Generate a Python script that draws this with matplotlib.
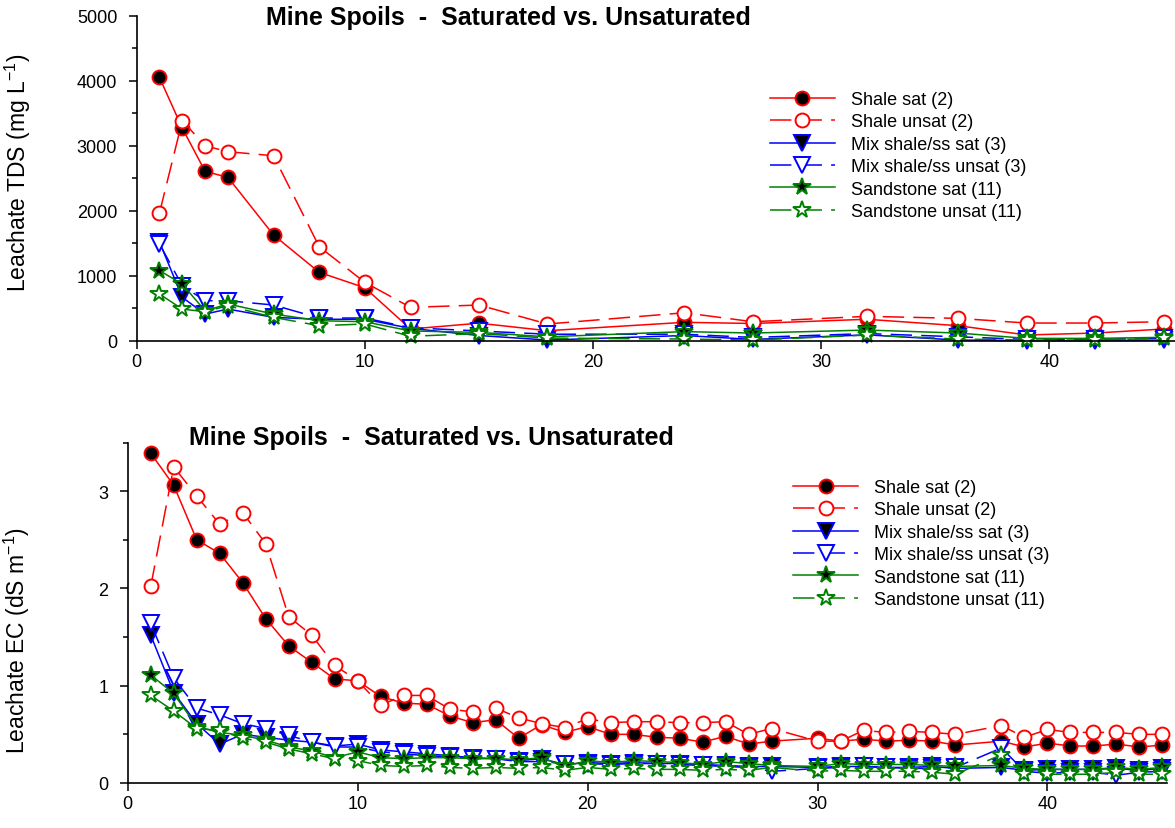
import matplotlib
matplotlib.use('Agg')
import matplotlib.pyplot as plt

plt.rcParams['font.family'] = ['Liberation Sans', 'DejaVu Sans']
plt.rcParams['mathtext.default'] = 'regular'

#TDS data (top panel):
tds_x = [1, 2, 3, 4, 6, 8, 10, 12, 15, 18, 24, 27, 32, 36, 39, 42, 45]
tds_shale_sat = [4050, 3270, 2606, 2513, 1626, 1052, 815, 180, 270, 154, 283, 265, 330, 231, 88, 118, 180]
tds_shale_unsat = [1965, 3385, 3000, 2908, 2846, 1446, 898, 513, 549, 257, 430, 292, 375, 344, 272, 272, 292]
tds_mix_sat = [1520, 667, 410, 487, 359, 330, 330, 190, 80, 10, 80, 20, 90, 10, 0, 0, 10]
tds_mix_unsat = [1490, 846, 615, 615, 549, 349, 349, 200, 150, 100, 100, 50, 110, 60, 20, 20, 40]
tds_sand_sat = [1080, 870, 460, 565, 410, 308, 292, 150, 128, 60, 140, 118, 164, 118, 36, 36, 52]
tds_sand_unsat = [718, 487, 446, 539, 359, 231, 257, 68, 110, 40, 26, 10, 87, 26, 10, 10, 36]

#EC data (bottom panel), no samples at 29 and 37:
ec_x = [1, 2, 3, 4, 5, 6, 7, 8, 9, 10, 11, 12, 13, 14, 15, 16, 17, 18, 19, 20, 21, 22,
        23, 24, 25, 26, 27, 28, 30, 31, 32, 33, 34, 35, 36, 38, 39, 40, 41, 42, 43, 44, 45]
ec_shale_sat = [3.39, 3.06, 2.50, 2.36, 2.06, 1.69, 1.41, 1.24, 1.07, 1.05, 0.89, 0.82, 0.81, 0.69, 0.62,
                0.65, 0.46, 0.60, 0.52, 0.58, 0.50, 0.50, 0.47, 0.46, 0.42, 0.48, 0.40, 0.43, 0.46, 0.43,
                0.45, 0.43, 0.44, 0.43, 0.39, 0.43, 0.37, 0.41, 0.38, 0.38, 0.40, 0.37, 0.39]
ec_shale_unsat = [2.02, 3.25, 2.95, 2.66, 2.78, 2.46, 1.71, 1.52, 1.21, 1.05, 0.80, 0.90, 0.90, 0.76, 0.73,
                  0.77, 0.67, 0.61, 0.57, 0.66, 0.62, 0.63, 0.63, 0.62, 0.62, 0.63, 0.50, 0.56, 0.43, 0.43,
                  0.54, 0.52, 0.53, 0.52, 0.50, 0.59, 0.47, 0.55, 0.52, 0.52, 0.52, 0.50, 0.50]
ec_mix_sat = [1.52, 0.93, 0.61, 0.40, 0.50, 0.47, 0.44, 0.42, 0.38, 0.40, 0.34, 0.32, 0.30, 0.28, 0.26,
              0.25, 0.23, 0.25, 0.19, 0.21, 0.20, 0.21, 0.20, 0.20, 0.19, 0.18, 0.17, 0.17, 0.16, 0.17,
              0.17, 0.16, 0.16, 0.17, 0.15, 0.16, 0.13, 0.14, 0.14, 0.14, 0.15, 0.13, 0.15]
ec_mix_unsat = [1.64, 1.08, 0.77, 0.70, 0.61, 0.56, 0.49, 0.42, 0.37, 0.37, 0.32, 0.30, 0.28, 0.27, 0.25,
                0.25, 0.22, 0.22, 0.20, 0.20, 0.19, 0.20, 0.20, 0.19, 0.18, 0.17, 0.16, 0.12, 0.15, 0.16,
                0.17, 0.16, 0.15, 0.15, 0.16, 0.36, 0.12, 0.10, 0.11, 0.11, 0.08, 0.11, 0.12]
ec_sand_sat = [1.11, 0.92, 0.58, 0.52, 0.49, 0.44, 0.37, 0.33, 0.26, 0.32, 0.26, 0.25, 0.26, 0.26, 0.25,
               0.25, 0.24, 0.26, 0.17, 0.23, 0.21, 0.23, 0.22, 0.21, 0.19, 0.22, 0.20, 0.18, 0.17, 0.20,
               0.19, 0.19, 0.19, 0.18, 0.17, 0.18, 0.15, 0.14, 0.14, 0.14, 0.16, 0.14, 0.16]
ec_sand_unsat = [0.90, 0.74, 0.56, 0.54, 0.46, 0.42, 0.35, 0.30, 0.25, 0.23, 0.18, 0.17, 0.18, 0.16, 0.15,
                 0.16, 0.15, 0.16, 0.13, 0.16, 0.14, 0.15, 0.14, 0.14, 0.13, 0.14, 0.13, 0.16, 0.12, 0.13,
                 0.12, 0.12, 0.12, 0.11, 0.09, 0.29, 0.09, 0.09, 0.09, 0.09, 0.11, 0.09, 0.09]

labels = ["Shale sat (2)", "Shale unsat (2)", "Mix shale/ss sat (3)", "Mix shale/ss unsat (3)",
          "Sandstone sat (11)", "Sandstone unsat (11)"]

#style per series: (color, marker, size, face, dashed)
styles = [('red', 'o', 10, 'black', False),
          ('red', 'o', 10, 'white', True),
          ('blue', 'v', 11, 'black', False),
          ('blue', 'v', 11, 'white', True),
          ('green', '*', 13, 'black', False),
          ('green', '*', 13, 'white', True)]

title = "Mine Spoils  -  Saturated vs. Unsaturated"


def draw_panel(ax, x, series, ylim, ymajor, yminor, ylabel, xmax):
    for y, lab, st in zip(series, labels, styles):
        color, mk, ms, face, dashed = st
        line, = ax.plot(x, y, color=color, linewidth=1.1, marker=mk, markersize=ms,
                        markerfacecolor=face, markeredgecolor=color, markeredgewidth=1.4,
                        label=lab, clip_on=False)
        if dashed:
            line.set_dashes((14, 6))
    ax.set_xlim(0, xmax)
    ax.set_xticks([0, 10, 20, 30, 40])
    ax.set_yticks(ymajor)
    ax.set_yticks(yminor, minor=True)
    ax.set_ylim(*ylim)
    for s in ['top', 'right']:
        ax.spines[s].set_visible(False)
    for s in ['left', 'bottom']:
        ax.spines[s].set_linewidth(1.2)
    ax.tick_params(which='major', direction='out', length=6, width=1.1, labelsize=13, pad=8)
    ax.tick_params(axis='x', which='major', pad=3)
    ax.tick_params(which='minor', direction='out', length=3.5, width=1.1)
    ax.set_ylabel(ylabel, fontsize=16.5)


fig = plt.figure(figsize=(11.75, 8.29), dpi=100)

#top: TDS
ax1 = fig.add_axes([0.1163, 0.5878, 0.8837, 0.392])
draw_panel(ax1, tds_x, [tds_shale_sat, tds_shale_unsat, tds_mix_sat, tds_mix_unsat, tds_sand_sat, tds_sand_unsat],
           (0, 5000), [0, 1000, 2000, 3000, 4000, 5000], [500, 1500, 2500, 3500, 4500],
           r'Leachate TDS (mg L$^{-1}$)', 45.5)
ax1.yaxis.set_label_coords(-0.1, 0.52)
ax1.legend(loc='upper left', bbox_to_anchor=(0.6553, 0.8890), bbox_transform=fig.transFigure,
           frameon=False, fontsize=13, handlelength=3.6, handletextpad=0.9, labelspacing=0.3,
           borderpad=0, borderaxespad=0)
fig.text(0.4326, 0.978, title, fontsize=18, fontweight='bold', ha='center', va='center')

#bottom: EC
ax2 = fig.add_axes([0.1087, 0.0543, 0.8845, 0.4107])
draw_panel(ax2, ec_x, [ec_shale_sat, ec_shale_unsat, ec_mix_sat, ec_mix_unsat, ec_sand_sat, ec_sand_unsat],
           (0, 3.5), [0, 1, 2, 3], [0.5, 1.5, 2.5, 3.5], r'Leachate EC (dS m$^{-1}$)', 45.2)
ax2.yaxis.set_label_coords(-0.092, 0.42)
ax2.legend(loc='upper left', bbox_to_anchor=(0.675, 0.4210), bbox_transform=fig.transFigure,
           frameon=False, fontsize=13, handlelength=3.6, handletextpad=0.9, labelspacing=0.3,
           borderpad=0, borderaxespad=0)
fig.text(0.367, 0.4715, title, fontsize=18, fontweight='bold', ha='center', va='center')

plt.savefig('out.png', dpi=100)
